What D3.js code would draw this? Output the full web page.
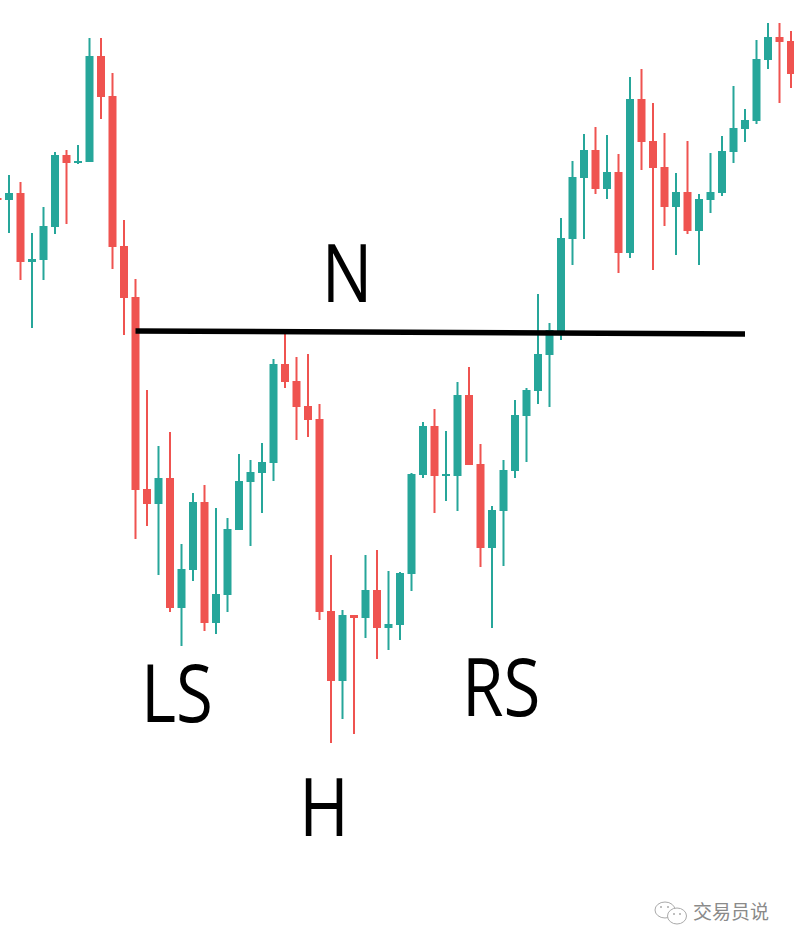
<!DOCTYPE html>
<html>
<head>
<meta charset="utf-8">
<script src="https://cdn.jsdelivr.net/npm/d3@7"></script>
<style>
html,body{margin:0;padding:0;background:#fff;}
svg{display:block;}
</style>
</head>
<body>
<svg id="chart" width="794" height="946"></svg>
<script>
// OHLC values (arbitrary price units)
const opens  = [802,800,807,738,740,773,845,837,838,944,904,754,703,511,496,522,392,430,498,377,405,470,518,527,537,636,619,594,581,389,319,385,382,410,372,375,426,525,574,524,524,605,536,452,489,529,584,609,645,668,761,822,850,811,828,747,901,859,833,793,808,769,800,807,848,871,879,940,963,959];
const highs  = [804,825,818,767,793,848,850,855,962,962,927,780,721,610,554,568,456,507,515,492,482,546,540,557,641,671,643,646,596,445,390,385,445,450,429,428,527,578,591,569,618,633,556,494,540,600,612,706,677,782,839,866,873,865,846,923,931,897,867,827,859,806,847,864,914,891,960,977,977,969];
const lows   = [799,767,720,672,720,766,776,836,838,881,731,665,461,474,425,388,354,419,369,366,388,470,454,487,519,612,560,563,380,257,281,266,362,341,350,360,409,522,487,499,489,535,433,372,434,522,538,596,593,660,735,761,806,801,727,742,830,730,774,745,766,735,787,804,837,858,876,931,897,912];
const closes = [801,807,738,741,774,845,837,839,944,903,753,702,510,496,522,392,431,498,377,406,471,519,528,538,636,618,593,580,388,319,385,382,410,372,376,427,526,574,524,526,605,535,452,490,530,585,610,646,670,762,823,850,811,828,747,901,858,832,793,808,769,801,808,849,872,880,941,963,958,926];

// neckline endpoints (candle index, price)
const necklineIdx   = [12, 65];
const necklinePrice = [669, 666];

// pattern labels
const labels      = ["N", "LS", "RS", "H"];
const labelIdx    = [30.4, 15.6, 43.8, 28.4];
const labelPrice  = [698, 278, 284, 164];

const watermark = "交易员说";

const W = 794, H = 946;
const n = opens.length;
const data = d3.range(n).map(i => ({i, o: opens[i], h: highs[i], l: lows[i], c: closes[i]}));

const x = d3.scaleLinear().domain([0, n - 1]).range([-2.5, 791]);
const y = d3.scaleLinear().domain([54, 1000]).range([H, 0]);

const UP = "#26a69a", DOWN = "#ef5350";
const bodyW = 8, wickW = 2;

const svg = d3.select("#chart");
svg.append("rect").attr("width", W).attr("height", H).attr("fill", "#fff");

const g = svg.append("g");
const candle = g.selectAll("g.c").data(data).join("g").attr("class", "c");
candle.append("rect")
  .attr("x", d => x(d.i) - wickW / 2)
  .attr("width", wickW)
  .attr("y", d => y(d.h))
  .attr("height", d => Math.max(1, y(d.l) - y(d.h)))
  .attr("fill", d => d.c >= d.o ? UP : DOWN);
candle.append("rect")
  .attr("x", d => x(d.i) - bodyW / 2)
  .attr("width", bodyW)
  .attr("y", d => y(Math.max(d.o, d.c)))
  .attr("height", d => Math.max(2, Math.abs(y(d.o) - y(d.c))))
  .attr("fill", d => d.c >= d.o ? UP : DOWN);

// neckline
svg.append("line")
  .attr("x1", x(necklineIdx[0])).attr("y1", y(necklinePrice[0]))
  .attr("x2", x(necklineIdx[1])).attr("y2", y(necklinePrice[1]))
  .attr("stroke", "#000").attr("stroke-width", 5.5);

// labels
svg.selectAll("text.lbl").data(labels).join("text")
  .attr("class", "lbl")
  .attr("transform", (d, i) => `translate(${x(labelIdx[i])},${y(labelPrice[i])}) scale(0.83,1)`)
  .attr("text-anchor", "middle")
  .attr("font-family", "'Open Sans', sans-serif")
  .attr("font-size", 81)
  .attr("fill", "#000")
  .text(d => d);

// watermark (WeChat-style icon + text)
const wm = svg.append("g").attr("fill", "none").attr("stroke", "#aaa").attr("stroke-width", 1);
wm.append("ellipse").attr("cx", 665).attr("cy", 910).attr("rx", 10).attr("ry", 8);
wm.append("ellipse").attr("cx", 677).attr("cy", 916).attr("rx", 9.5).attr("ry", 8).attr("fill", "#fff");
const dots = svg.append("g").attr("fill", "#aaa");
[[661,907],[668,907],[674,914],[680,914]].forEach(p =>
  dots.append("circle").attr("cx", p[0]).attr("cy", p[1]).attr("r", 1));
svg.append("text")
  .attr("x", 693).attr("y", 919)
  .attr("font-family", "'Noto Sans CJK SC', sans-serif")
  .attr("font-size", 19)
  .attr("fill", "#8a8a8a")
  .text(watermark);
</script>
</body>
</html>
